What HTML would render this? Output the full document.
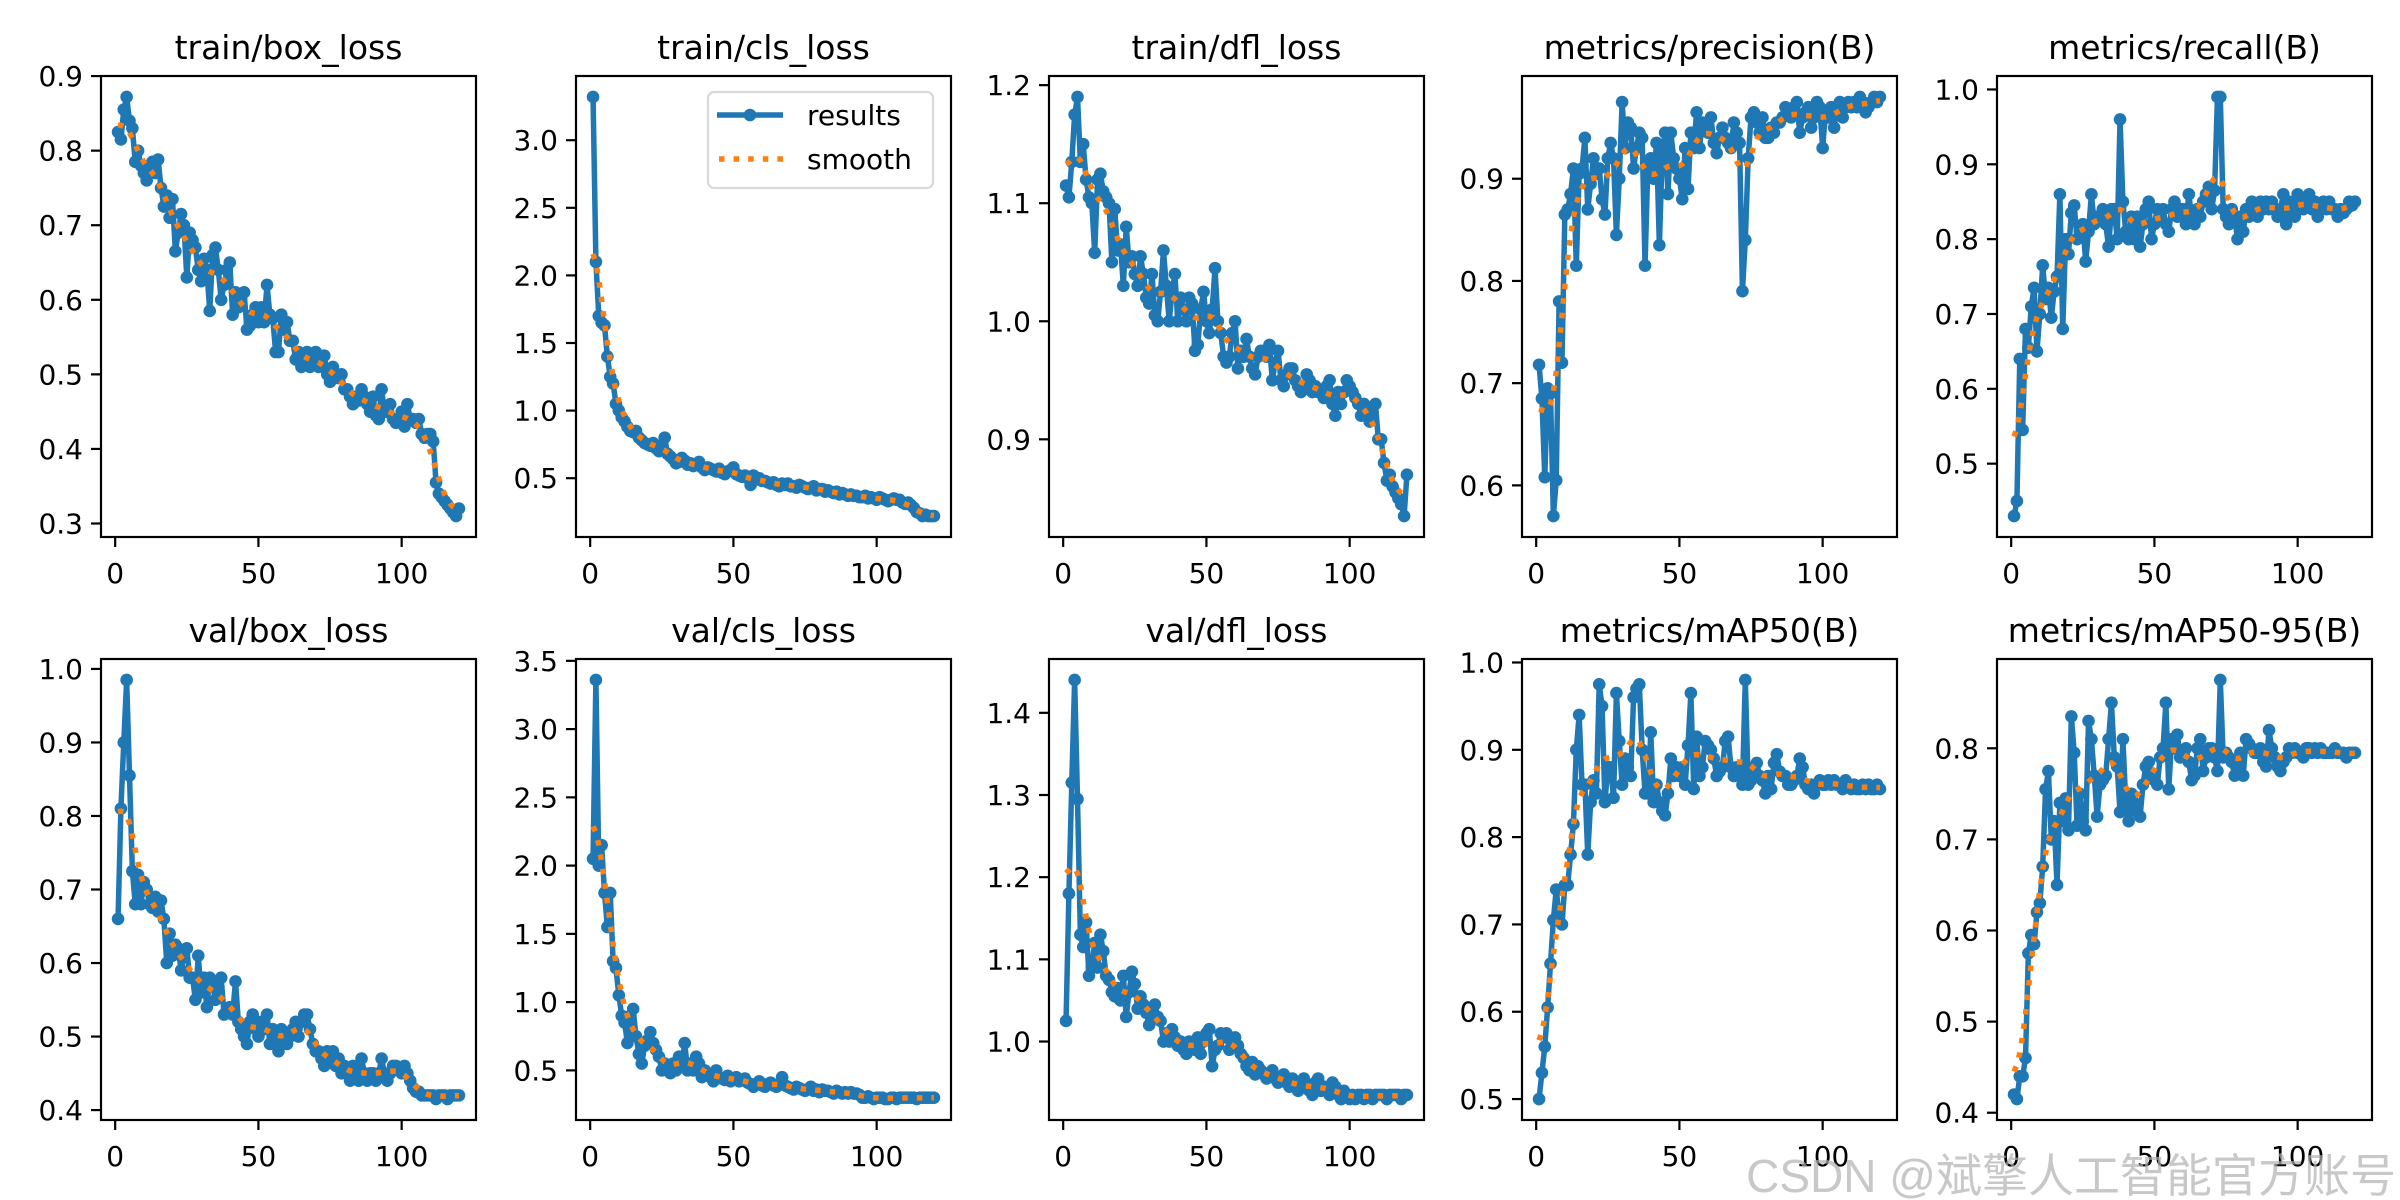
<!DOCTYPE html>
<html><head><meta charset="utf-8"><style>
html,body{margin:0;padding:0;background:#fff;}
svg{display:block;font-family:"DejaVu Sans","Liberation Sans",sans-serif;}
</style></head><body>
<svg id="fig" width="2400" height="1200" viewBox="0 0 2400 1200" xmlns="http://www.w3.org/2000/svg"></svg>
<script>
const epochs = Array.from({length:120},(_,i)=>i+1);
const xTicks = [0,50,100];
const trainBoxLoss = [.825,.815,.855,.872,.84,.83,.785,.80,.78,.77, .76,.78,.785,.77,.788,.75,.725,.74,.71,.735, .665,.69,.715,.70,.63,.69,.68,.67,.64,.625, .655,.64,.585,.66,.67,.64,.60,.62,.64,.65, .58,.61,.59,.60,.61,.56,.565,.58,.59,.57, .59,.57,.62,.58,.575,.53,.53,.58,.56,.57, .545,.545,.52,.53,.51,.52,.53,.51,.52,.53, .51,.52,.525,.50,.49,.51,.50,.495,.50,.48, .48,.47,.46,.47,.465,.48,.47,.46,.45,.47, .445,.44,.48,.45,.45,.46,.44,.435,.44,.45, .43,.46,.44,.44,.435,.44,.42,.415,.42,.42, .41,.355,.34,.335,.33,.325,.32,.315,.31,.32];
const trainClsLoss = [3.32,2.1,1.7,1.65,1.63,1.4,1.25,1.2,1.05,1.0, .95,.92,.88,.85,.84,.85,.80,.78,.76,.75, .74,.76,.72,.70,.74,.80,.68,.66,.64,.61, .62,.65,.63,.60,.61,.59,.60,.62,.58,.56, .58,.57,.56,.55,.57,.54,.53,.55,.56,.58, .53,.52,.51,.52,.50,.45,.52,.49,.50,.48, .48,.47,.46,.47,.45,.44,.46,.45,.46,.44, .44,.43,.45,.44,.43,.42,.43,.44,.41,.42, .42,.40,.41,.40,.39,.40,.38,.39,.38,.37, .38,.37,.37,.36,.36,.37,.35,.36,.35,.34, .36,.35,.34,.33,.34,.35,.34,.34,.32,.31, .32,.30,.28,.25,.24,.22,.23,.22,.22,.22];
const trainDflLoss = [1.115,1.105,1.135,1.175,1.19,1.135,1.15,1.12,1.105,1.10, 1.058,1.12,1.125,1.11,1.105,1.10,1.05,1.095,1.06,1.065, 1.03,1.08,1.05,1.055,1.04,1.03,1.055,1.04,1.02,1.015, 1.04,1.005,1.00,1.025,1.06,1.03,1.00,1.025,1.04,1.00, 1.02,1.01,1.00,1.02,1.015,.975,.98,1.01,1.025,1.00, .99,1.01,1.045,1.00,.99,.97,.965,.97,.99,1.00, .96,.975,.97,.985,.97,.96,.955,.97,.975,.975, .97,.98,.95,.965,.975,.95,.945,.955,.96,.96, .95,.945,.94,.945,.955,.95,.94,.945,.94,.94, .935,.945,.95,.93,.92,.94,.93,.94,.95,.945, .94,.935,.93,.92,.93,.925,.915,.92,.93,.90, .90,.88,.865,.87,.86,.855,.85,.845,.835,.87];
const precision = [.718,.685,.608,.695,.69,.57,.605,.78,.72,.865, .87,.885,.91,.815,.905,.91,.94,.87,.895,.92, .905,.91,.88,.865,.92,.935,.92,.845,.90,.975, .93,.955,.95,.91,.93,.945,.94,.815,.915,.92, .90,.935,.835,.925,.945,.885,.945,.92,.91,.90, .88,.93,.89,.945,.93,.965,.93,.955,.95,.945, .96,.935,.925,.94,.95,.94,.935,.93,.955,.945, .935,.79,.84,.92,.96,.965,.955,.945,.96,.94, .94,.95,.945,.955,.955,.96,.97,.965,.96,.97, .975,.945,.96,.965,.97,.95,.96,.975,.97,.93, .965,.96,.97,.95,.97,.975,.96,.97,.975,.97, .975,.97,.98,.975,.965,.97,.975,.98,.975,.98];
const recall = [.43,.45,.64,.545,.68,.655,.71,.735,.65,.70, .765,.72,.735,.695,.73,.75,.86,.68,.80,.78, .835,.845,.80,.81,.82,.77,.81,.86,.82,.83, .83,.84,.82,.79,.84,.84,.80,.96,.85,.81, .80,.83,.80,.83,.79,.82,.84,.85,.80,.82, .84,.83,.84,.82,.81,.84,.85,.83,.84,.84, .82,.86,.83,.82,.84,.83,.85,.86,.87,.84, .865,.99,.99,.84,.83,.82,.84,.83,.80,.83, .81,.84,.83,.85,.84,.83,.85,.84,.85,.84, .85,.84,.83,.84,.86,.82,.85,.84,.83,.86, .85,.84,.85,.86,.84,.85,.83,.84,.85,.84, .85,.84,.84,.83,.84,.835,.84,.85,.845,.85];
const valBoxLoss = [.66,.81,.90,.985,.855,.725,.68,.72,.68,.71, .70,.68,.675,.69,.67,.685,.66,.60,.64,.61, .625,.62,.59,.61,.62,.58,.58,.55,.61,.56, .58,.54,.58,.57,.55,.56,.58,.53,.535,.54, .53,.575,.52,.51,.50,.49,.52,.53,.51,.50, .52,.51,.53,.49,.51,.50,.48,.51,.50,.49, .50,.51,.52,.50,.52,.53,.53,.51,.49,.48, .48,.47,.46,.48,.47,.48,.46,.47,.45,.46, .45,.44,.46,.45,.44,.47,.45,.44,.45,.45, .44,.45,.47,.45,.44,.45,.46,.46,.455,.45, .46,.45,.44,.43,.425,.425,.42,.42,.42,.42, .42,.415,.42,.42,.42,.415,.42,.42,.42,.42];
const valClsLoss = [2.05,3.36,2.0,2.15,1.8,1.55,1.8,1.3,1.25,1.05, .9,.85,.7,.9,.95,.75,.62,.55,.68,.72, .78,.70,.65,.6,.5,.55,.5,.48,.55,.5, .6,.55,.7,.5,.55,.5,.6,.55,.45,.5, .48,.45,.42,.5,.45,.44,.43,.46,.42,.44, .45,.42,.43,.44,.41,.40,.38,.40,.42,.39, .38,.40,.41,.39,.38,.40,.45,.39,.38,.37, .36,.38,.37,.36,.35,.36,.38,.35,.36,.34, .36,.35,.35,.34,.33,.35,.34,.33,.34,.33, .34,.33,.33,.32,.30,.30,.31,.30,.29,.30, .30,.30,.29,.29,.30,.30,.29,.30,.30,.30, .30,.30,.30,.29,.30,.30,.30,.30,.30,.30];
const valDflLoss = [1.025,1.18,1.315,1.44,1.295,1.13,1.115,1.145,1.08,1.09, 1.12,1.09,1.13,1.11,1.08,1.075,1.06,1.055,1.065,1.05, 1.08,1.03,1.06,1.085,1.07,1.04,1.055,1.045,1.035,1.02, 1.04,1.045,1.03,1.025,1.0,1.01,1.0,1.015,1.005,.995, 1.0,.99,.985,1.0,.995,.99,1.005,.985,1.0,1.01, 1.015,.97,.99,.995,1.01,1.005,1.01,.99,1.0,1.005, .995,.985,.98,.97,.965,.975,.96,.97,.965,.96, .955,.96,.965,.955,.95,.955,.96,.95,.945,.955, .945,.94,.95,.955,.945,.94,.935,.95,.955,.94, .945,.94,.935,.95,.945,.935,.93,.94,.935,.93, .935,.93,.935,.935,.93,.935,.935,.93,.935,.935, .935,.935,.93,.935,.935,.935,.935,.93,.935,.935];
const map50 = [.50,.53,.56,.605,.655,.705,.74,.71,.70,.745, .745,.78,.815,.90,.94,.86,.86,.78,.84,.865, .85,.975,.95,.84,.88,.88,.845,.965,.91,.86, .89,.88,.87,.96,.97,.975,.90,.85,.85,.92, .84,.86,.84,.83,.825,.85,.89,.87,.88,.87, .88,.86,.905,.965,.855,.915,.87,.88,.91,.905, .90,.89,.87,.875,.88,.91,.915,.88,.87,.88, .87,.86,.98,.86,.865,.88,.885,.87,.865,.85, .87,.855,.885,.895,.875,.87,.87,.86,.86,.865, .87,.89,.88,.86,.855,.86,.85,.86,.865,.86, .86,.865,.86,.865,.86,.86,.855,.865,.86,.855, .86,.855,.855,.86,.855,.86,.855,.855,.86,.855];
const map5095 = [.42,.415,.44,.44,.46,.575,.595,.585,.62,.63, .67,.755,.775,.70,.72,.65,.74,.72,.745,.71, .835,.795,.715,.75,.72,.71,.83,.81,.77,.725, .76,.765,.77,.81,.85,.79,.78,.73,.81,.74, .72,.75,.74,.73,.725,.76,.78,.785,.77,.765, .76,.79,.80,.85,.755,.81,.80,.815,.79,.795, .80,.785,.765,.77,.80,.81,.775,.79,.80,.80, .79,.775,.875,.79,.795,.79,.785,.77,.78,.795, .77,.81,.805,.80,.795,.795,.80,.785,.78,.82, .80,.79,.78,.775,.785,.79,.80,.795,.80,.795, .795,.79,.80,.80,.795,.80,.795,.80,.795,.795, .795,.795,.80,.795,.795,.795,.79,.795,.795,.795];
const ticksTrainBox = [0.3,0.4,0.5,0.6,0.7,0.8,0.9];
const ticksTrainCls = [0.5,1.0,1.5,2.0,2.5,3.0];
const ticksTrainDfl = [0.9,1.0,1.1,1.2];
const ticksPrecision = [0.6,0.7,0.8,0.9];
const ticksRecall = [0.5,0.6,0.7,0.8,0.9,1.0];
const ticksValBox = [0.4,0.5,0.6,0.7,0.8,0.9,1.0];
const ticksValCls = [0.5,1.0,1.5,2.0,2.5,3.0,3.5];
const ticksValDfl = [1.0,1.1,1.2,1.3,1.4];
const ticksMap50 = [0.5,0.6,0.7,0.8,0.9,1.0];
const ticksMap5095 = [0.4,0.5,0.6,0.7,0.8];
const titles = ["train/box_loss","train/cls_loss","train/dfl_loss","metrics/precision(B)","metrics/recall(B)","val/box_loss","val/cls_loss","val/dfl_loss","metrics/mAP50(B)","metrics/mAP50-95(B)"];

const NS="http://www.w3.org/2000/svg";
const svg=document.getElementById('fig');
function mk(tag,attrs,parent){const e=document.createElementNS(NS,tag);for(const k in attrs)e.setAttribute(k,attrs[k]);(parent||svg).appendChild(e);return e;}
function smooth(y){
  const s=3,R=12,n=y.length;const w=[];let tot=0;
  for(let j=-R;j<=R;j++){const v=Math.exp(-j*j/(2*s*s));w.push(v);tot+=v;}
  const idx=i=>{while(i<0||i>=n){if(i<0)i=-i-1;if(i>=n)i=2*n-i-1;}return i;};
  const out=[];for(let i=0;i<n;i++){let a=0;for(let j=-R;j<=R;j++)a+=w[j+R]*y[idx(i+j)];out.push(a/tot);}return out;
}
function fmt(v){return v.toFixed(1);}

const series=[trainBoxLoss,trainClsLoss,trainDflLoss,precision,recall,valBoxLoss,valClsLoss,valDflLoss,map50,map5095];
const yticks=[ticksTrainBox,ticksTrainCls,ticksTrainDfl,ticksPrecision,ticksRecall,ticksValBox,ticksValCls,ticksValDfl,ticksMap50,ticksMap5095];
const colLeft=[101,576,1049,1522,1997], W=375;
const rowTop=[76,659], H=461;

series.forEach((ys,k)=>{
  const L=colLeft[k%5], T=rowTop[Math.floor(k/5)];
  const g=mk('g',{});
  
  
  const sm=smooth(ys);
  const all=ys.concat(sm);
  let mn=Math.min(...all),mx=Math.max(...all);const m=(mx-mn)*0.05;mn-=m;mx+=m;
  const x0=1-119*0.05,x1=120+119*0.05;
  const X=v=>L+(v-x0)/(x1-x0)*W;
  const Y=v=>T+H-(v-mn)/(mx-mn)*H;
  const t=mk('text',{x:L+W/2,y:T-17,'text-anchor':'middle','font-size':33,fill:'#000'},g);
  t.textContent=titles[k];
  
  
  xTicks.forEach(v=>{const x=X(v);
    mk('line',{x1:x,x2:x,y1:T+H,y2:T+H+10,stroke:'#000','stroke-width':2.2},g);
    const tl=mk('text',{x:x,y:T+H+46,'text-anchor':'middle','font-size':28,fill:'#000'},g);
    tl.textContent=v;
    
    
  });
  yticks[k].forEach(v=>{if(v<mn||v>mx)return;const y=Y(v);
    mk('line',{x1:L-10,x2:L,y1:y,y2:y,stroke:'#000','stroke-width':2.2},g);
    const tl=mk('text',{x:L-18,y:y+10,'text-anchor':'end','font-size':28,fill:'#000'},g);
    tl.textContent=fmt(v);
    
    
  });
  const clip='c'+k;
  const cp=mk('clipPath',{id:clip},g);mk('rect',{x:L,y:T,width:W,height:H},cp);
  const pts=ys.map((v,i)=>X(epochs[i]).toFixed(2)+','+Y(v).toFixed(2)).join(' ');
  const pl=mk('polyline',{points:pts,fill:'none',stroke:'#1f77b4','stroke-width':5.5,'stroke-linejoin':'round','clip-path':'url(#'+clip+')'},g);
  
  
  ys.forEach((v,i)=>{const c=mk('circle',{cx:X(epochs[i]),cy:Y(v),r:6.3,fill:'#1f77b4'},g);
    
    });
  const sp=sm.map((v,i)=>X(epochs[i]).toFixed(2)+','+Y(v).toFixed(2)).join(' ');
  const sl=mk('polyline',{points:sp,fill:'none',stroke:'#ff7f0e','stroke-width':5.5,'stroke-dasharray':'5.5 9.1'},g);
  
  
  const fr=mk('rect',{x:L,y:T,width:W,height:H,fill:'none',stroke:'#000','stroke-width':2.2},g);
  
  
  if(k===1){
    const lg=mk('g',{},g);
    
    
    mk('rect',{x:708,y:92,width:225,height:96,rx:6,fill:'#fff','fill-opacity':0.8,stroke:'#d9d9d9','stroke-width':2.2},lg);
    mk('line',{x1:717,x2:783,y1:115,y2:115,stroke:'#1f77b4','stroke-width':5.5},lg);
    mk('circle',{cx:750,cy:115,r:6.3,fill:'#1f77b4'},lg);
    mk('line',{x1:719,x2:783,y1:159,y2:159,stroke:'#ff7f0e','stroke-width':5.5,'stroke-dasharray':'5.5 9.1'},lg);
    const a=mk('text',{x:807,y:125,'font-size':28,fill:'#000'},lg);a.textContent='results';
    
    
    const b=mk('text',{x:807,y:169,'font-size':28,fill:'#000'},lg);b.textContent='smooth';
    
    
  }
});
const wm=mk('text',{x:2396,y:1192,'text-anchor':'end','font-size':46,fill:'#b0b0b0','fill-opacity':0.7,'font-family':'"Liberation Sans","Noto Sans CJK SC",sans-serif'});
wm.textContent='CSDN @斌擎人工智能官方账号';


</script>
</body></html>
